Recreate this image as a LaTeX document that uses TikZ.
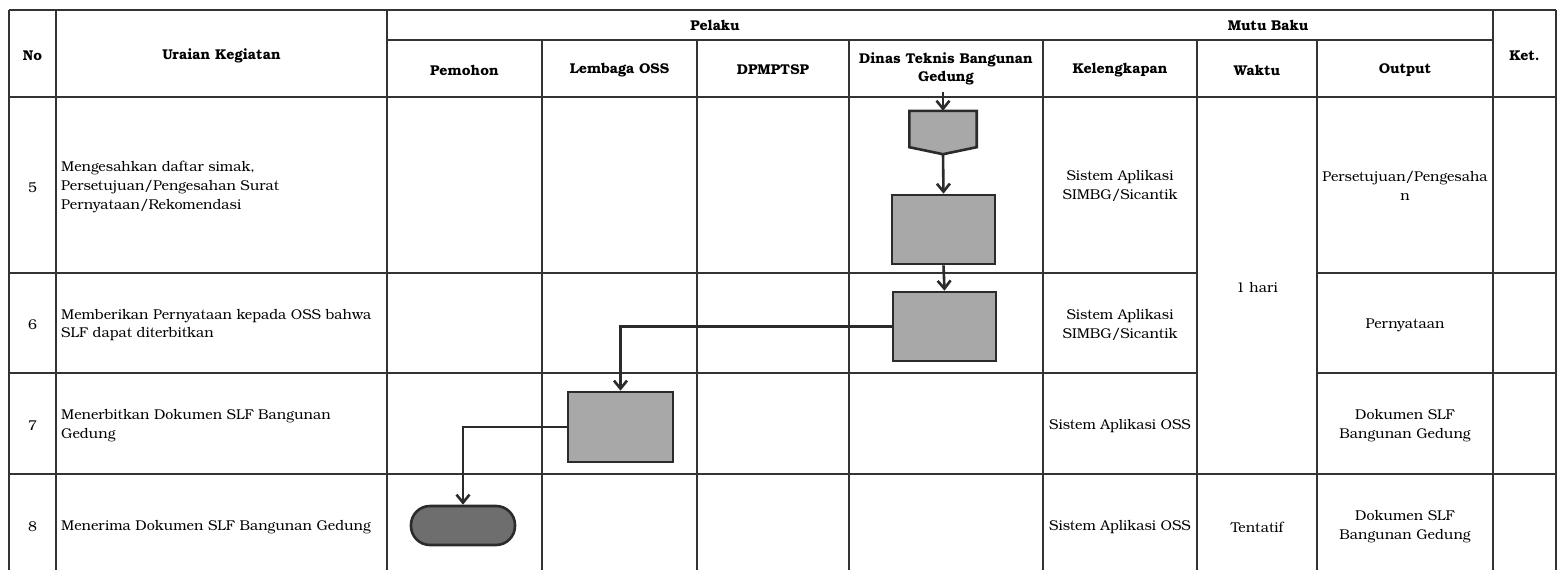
\documentclass[tikz,border=0pt]{standalone}
\usepackage{fontspec}
\setmainfont{texgyrebonum-regular.otf}[BoldFont=texgyrebonum-bold.otf]
\usetikzlibrary{arrows.meta}
\definecolor{ink}{HTML}{2B2B2B}
\definecolor{rule}{HTML}{333333}
\definecolor{boxfill}{HTML}{A8A8A8}
\definecolor{termfill}{HTML}{6E6E6E}
\tikzset{
  gridline/.style={line width=1.5pt, draw=rule},
  hd/.style={font=\bfseries\fontsize{14.2}{18}\selectfont, align=center, inner sep=0pt},
  bd/.style={font=\fontsize{14.2}{18.8}\selectfont, align=center, inner sep=0pt},
  bdl/.style={font=\fontsize{14.2}{18.8}\selectfont, align=left, anchor=west, inner sep=0pt},
  proc/.style={draw=ink, line width=2.6pt, fill=boxfill, minimum width=103pt, minimum height=69pt, inner sep=0pt},
  term/.style={draw=ink, line width=2.6pt, fill=termfill, minimum width=104pt, minimum height=39pt, rounded corners=19pt, inner sep=0pt},
  ghost/.style={minimum width=67pt, minimum height=43pt, inner sep=0pt},
  flow/.style={draw=ink, line width=2.6pt, -{Straight Barb[length=8pt,width=13pt,line width=2.6pt]}},
}
\begin{document}
\begin{tikzpicture}[x=1pt,y=-1pt]
\useasboundingbox[fill=white] (0,0) rectangle (1558,570);
% grid
\draw[gridline] (9,10) -- (1556,10);
\draw[gridline] (387,40) -- (1493,40);
\draw[gridline] (9,97) -- (1556,97);
\draw[gridline] (9,273) -- (1197,273) (1317,273) -- (1556,273);
\draw[gridline] (9,373) -- (1197,373) (1317,373) -- (1556,373);
\draw[gridline] (9,474) -- (1556,474);
\foreach \x in {9,56,387,1493,1556} \draw[gridline] (\x,10) -- (\x,570);
\foreach \x in {542,697,849,1043,1197,1317} \draw[gridline] (\x,40) -- (\x,570);
% headers
\node[hd] (hno) at (32.5,56) {No};
\node[hd] (hur) at (221.5,56) {Uraian Kegiatan};
\node[hd] (hpl) at (715,25) {Pelaku};
\node[hd] (hmb) at (1268,25) {Mutu Baku};
\node[hd] (hpm) at (464.5,70) {Pemohon};
\node[hd] (hlo) at (619.5,70) {Lembaga OSS};
\node[hd] (hdp) at (773,70) {DPMPTSP};
\node[hd] (hdt) at (946,69) {Dinas Teknis Bangunan\\Gedung};
\node[hd] (hkl) at (1120,70) {Kelengkapan};
\node[hd] (hwk) at (1257,70) {Waktu};
\node[hd] (hou) at (1405,70) {Output};
\node[hd] (hkt) at (1524.5,56) {Ket.};
% row 5
\node[bd] (n5) at (32.5,187) {5};
\node[bdl] (u5) at (61,187) {Mengesahkan daftar simak,\\Persetujuan/Pengesahan Surat\\Pernyataan/Rekomendasi};
\node[bd] (k5) at (1120,186) {Sistem Aplikasi\\SIMBG/Sicantik};
\node[bd] (o5) at (1405,186) {Persetujuan/Pengesaha\\n};
\node[bd] (w57) at (1257,287) {1 hari};
% row 6
\node[bd] (n6) at (32.5,325) {6};
\node[bdl] (u6) at (61,325) {Memberikan Pernyataan kepada OSS bahwa\\SLF dapat diterbitkan};
\node[bd] (k6) at (1120,325) {Sistem Aplikasi\\SIMBG/Sicantik};
\node[bd] (o6) at (1405,325) {Pernyataan};
% row 7
\node[bd] (n7) at (32.5,426) {7};
\node[bdl] (u7) at (61,426) {Menerbitkan Dokumen SLF Bangunan\\Gedung};
\node[bd] (k7) at (1120,426) {Sistem Aplikasi OSS};
\node[bd] (o7) at (1405,426) {Dokumen SLF\\Bangunan Gedung};
% row 8
\node[bd] (n8) at (32.5,527) {8};
\node[bdl] (u8) at (61,527) {Menerima Dokumen SLF Bangunan Gedung};
\node[bd] (k8) at (1120,527) {Sistem Aplikasi OSS};
\node[bd] (w8) at (1257,527) {Tentatif};
\node[bd] (o8) at (1405,527) {Dokumen SLF\\Bangunan Gedung};
% flow shapes
\coordinate (in5) at (943,92);
\node[ghost] (opc) at (943,132.5) {};
\draw[draw=ink, line width=2.6pt, fill=boxfill] (opc.north west) -- (opc.north east) -- ([yshift=7pt]opc.south east) -- (opc.south) -- ([yshift=7pt]opc.south west) -- cycle;
\node[proc] (r1) at (943.5,229.5) {};
\node[proc] (r2) at (944.5,326.5) {};
\node[proc, minimum width=105pt, minimum height=70pt] (r3) at (620.5,427) {};
\node[term] (t8) at (463,525.5) {};
% connectors
\draw[flow] (in5) -- (opc.north);
\draw[flow] (opc.south) -- (r1.north);
\draw[flow] (r1.south) -- (r2.north);
\draw[flow] (r2.west) -| (r3.north);
\draw[flow] (r3.west) -| (t8.north);
\end{tikzpicture}
\end{document}
